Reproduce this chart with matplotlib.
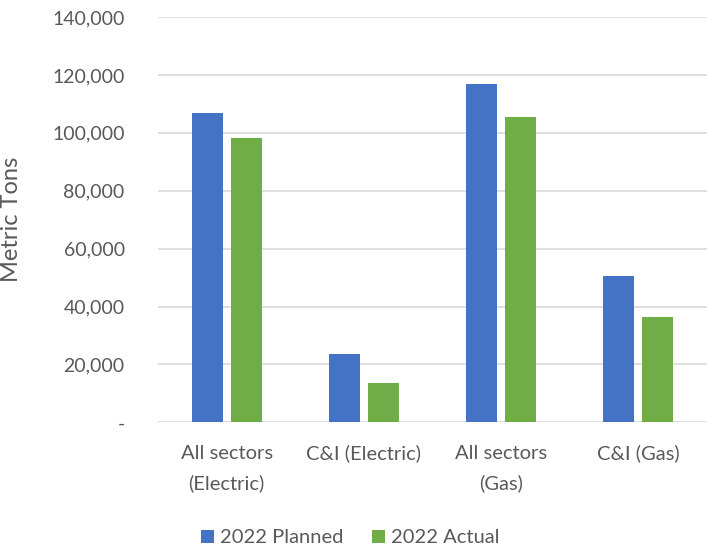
import matplotlib
matplotlib.use("Agg")
import matplotlib.pyplot as plt
from matplotlib.ticker import FuncFormatter
import numpy as np

categories = ['All sectors\n(Electric)', 'C&I (Electric)', 'All sectors\n(Gas)', 'C&I (Gas)']
planned = [106800, 23500, 117000, 50500]
actual = [98200, 13500, 105300, 36400]
series_names = ['2022 Planned', '2022 Actual']

plt.rcParams['font.family'] = ['Lato', 'DejaVu Sans']
grey = '#595959'

fig = plt.figure(figsize=(7.07, 5.48), dpi=100)
ax = fig.add_axes([158 / 707, 1 - 422.3 / 548, 549 / 707, 405.3 / 548])

x = np.arange(len(categories))
w = 0.225
off = 0.1425
ax.bar(x - off, planned, w, color='#4472C4', label=series_names[0], zorder=3)
ax.bar(x + off, actual, w, color='#70AD47', label=series_names[1], zorder=3)

ax.set_xlim(-0.5, len(categories) - 0.5)
ax.set_ylim(0, 140000)
ax.set_yticks(np.arange(0, 140001, 20000))
ax.yaxis.set_major_formatter(FuncFormatter(lambda v, p: '-' if v == 0 else f'{v:,.0f}'))
ax.grid(axis='y', color='#d9d9d9', linewidth=1.2, zorder=0)
for s in ax.spines.values():
    s.set_visible(False)
ax.tick_params(axis='y', length=0, labelsize=14, colors=grey, pad=24)
ax.tick_params(axis='x', length=0, labelsize=14.5, colors=grey, pad=16)
ax.set_xticks(x)
ax.set_xticklabels(categories, linespacing=1.85)
ax.set_ylabel('Metric Tons', fontsize=17, color=grey)
ax.yaxis.set_label_coords(-0.248, 0.5)

ax.legend(loc='center', bbox_to_anchor=(0.35, -0.285), ncol=2, frameon=False,
          fontsize=14.5, labelcolor=grey, handlelength=0.65, handleheight=0.65,
          handletextpad=0.3, columnspacing=1.4)

plt.savefig('out.png', dpi=100)
plt.close()
